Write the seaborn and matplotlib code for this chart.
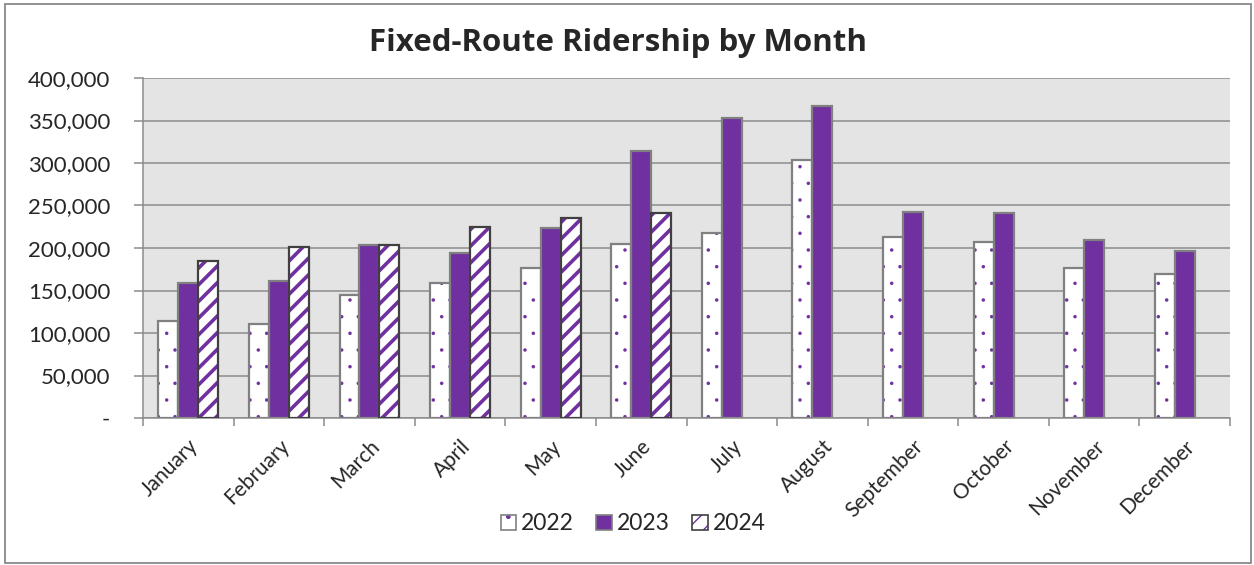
import matplotlib
matplotlib.use('Agg')
import matplotlib.pyplot as plt
from matplotlib.patches import Rectangle, Patch
from matplotlib.ticker import FuncFormatter
from matplotlib.legend_handler import HandlerTuple
import seaborn as sns
import numpy as np
import pandas as pd

MONTHS = ['January', 'February', 'March', 'April', 'May', 'June', 'July',
          'August', 'September', 'October', 'November', 'December']
YEARS = ['2022', '2023', '2024']

RIDERS_2022 = [114000, 111000, 145000, 159000, 177000, 205000, 218000,
               303000, 213000, 207000, 176000, 170000]
RIDERS_2023 = [159000, 161000, 203000, 194000, 223000, 314000, 353000,
               367000, 242000, 241000, 210000, 196000]
RIDERS_2024 = [185000, 201000, 204000, 225000, 235000, 241000]

PURPLE = '#7030a0'
EDGE_GRAY = '#808080'
DARK_EDGE = '#404040'
BG_GRAY = '#e4e4e4'
GRID_GRAY = '#8c8c8c'

sns.set_style("white")
plt.rcParams['font.family'] = ['Lato', 'DejaVu Sans']


def build_frame():
    rows = []
    for year, vals in zip(YEARS, [RIDERS_2022, RIDERS_2023, RIDERS_2024]):
        for m, v in zip(MONTHS, vals):
            rows.append({'Month': m, 'Year': year, 'Riders': v})
    return pd.DataFrame(rows)


def style_bars(ax):
    # hatch colour follows edge colour, so draw the hatch with a purple edge
    # of zero width and put a separate outline on top
    c22, c23, c24 = ax.containers
    for bar in c22:
        bar.set_facecolor('white')
        bar.set_hatch('.')
        bar.set_edgecolor(PURPLE)
        bar.set_linewidth(0)
        if hasattr(bar, 'set_hatch_linewidth'):
            bar.set_hatch_linewidth(0.1)
        ax.add_patch(Rectangle(bar.get_xy(), bar.get_width(), bar.get_height(),
                               fill=False, edgecolor=EDGE_GRAY, lw=1.6, zorder=3))
    for bar in c23:
        bar.set_facecolor(PURPLE)
        bar.set_edgecolor(EDGE_GRAY)
        bar.set_linewidth(1.6)
    for bar in c24:
        bar.set_facecolor('white')
        bar.set_hatch('//')
        bar.set_edgecolor(PURPLE)
        bar.set_linewidth(0)
        if hasattr(bar, 'set_hatch_linewidth'):
            bar.set_hatch_linewidth(2.6)
        ax.add_patch(Rectangle(bar.get_xy(), bar.get_width(), bar.get_height(),
                               fill=False, edgecolor=DARK_EDGE, lw=1.6, zorder=3))


def y_fmt(v, pos):
    if v == 0:
        return '-'
    return f'{int(v):,}'


def main():
    df = build_frame()

    fig = plt.figure(figsize=(12.54, 5.65), dpi=100)
    ax = fig.add_axes([143 / 1254, 1 - 418 / 565, (1230 - 143) / 1254, (418 - 78) / 565])

    sns.barplot(data=df, x='Month', y='Riders', hue='Year', order=MONTHS,
                hue_order=YEARS, width=0.66, gap=0, errorbar=None,
                legend=False, ax=ax, zorder=2)
    style_bars(ax)

    ax.set_facecolor(BG_GRAY)
    ax.set_ylim(0, 400000)
    ax.set_xlim(-0.5, 11.5)
    ax.set_yticks(np.arange(0, 400001, 50000))
    ax.yaxis.set_major_formatter(FuncFormatter(y_fmt))
    ax.yaxis.grid(True, color=GRID_GRAY, lw=1.1, zorder=0)
    ax.set_axisbelow(True)

    ax.set_xticks(np.arange(-0.5, 12, 1), labels=[''] * 13)
    ax.set_xticks(np.arange(12), labels=MONTHS, minor=True)
    ax.tick_params(axis='x', which='major', length=6, width=1.1, color=GRID_GRAY,
                   direction='out', bottom=True)
    ax.tick_params(axis='x', which='minor', length=0, pad=13)
    ax.tick_params(axis='y', length=6.5, width=1.1, color=GRID_GRAY, left=True,
                   labelsize=16, pad=17)
    for lab in ax.get_xticklabels(minor=True):
        lab.set_rotation(45)
        lab.set_ha('right')
        lab.set_rotation_mode('anchor')
        lab.set_fontsize(15)

    for side in ['top', 'right']:
        ax.spines[side].set_visible(False)
    for side in ['left', 'bottom']:
        ax.spines[side].set_color(GRID_GRAY)
        ax.spines[side].set_linewidth(1.1)

    ax.set_xlabel('')
    ax.set_ylabel('')

    fig.text(618 / 1254, 1 - 43 / 565, 'Fixed-Route Ridership by Month',
             ha='center', va='center', fontsize=22.5, fontweight='bold',
             family=['Open Sans', 'DejaVu Sans'])

    # legend
    h22 = (Patch(facecolor='white', hatch='.', edgecolor=PURPLE, lw=0),
           Patch(facecolor='none', edgecolor=EDGE_GRAY, lw=1.2))
    h23 = Patch(facecolor=PURPLE, edgecolor=EDGE_GRAY, lw=1.2)
    h24 = (Patch(facecolor='white', hatch='//', edgecolor=PURPLE, lw=0),
           Patch(facecolor='none', edgecolor=DARK_EDGE, lw=1.2))
    fig.legend([h22, h23, h24], YEARS, loc='center', ncol=3,
               bbox_to_anchor=(633 / 1254, 1 - 524 / 565), frameon=False,
               fontsize=16.5, handlelength=0.68, handleheight=0.68,
               handletextpad=0.2, columnspacing=1.0,
               handler_map={tuple: HandlerTuple(ndivide=1, pad=0)})

    fig.add_artist(Rectangle((5 / 1254, 2 / 565), (1251 - 5) / 1254, (562 - 3) / 565,
                             transform=fig.transFigure, fill=False,
                             edgecolor='#7f7f7f', lw=1.2))

    fig.savefig('out.png', dpi=100)
    plt.close(fig)


if __name__ == "__main__":
    main()
